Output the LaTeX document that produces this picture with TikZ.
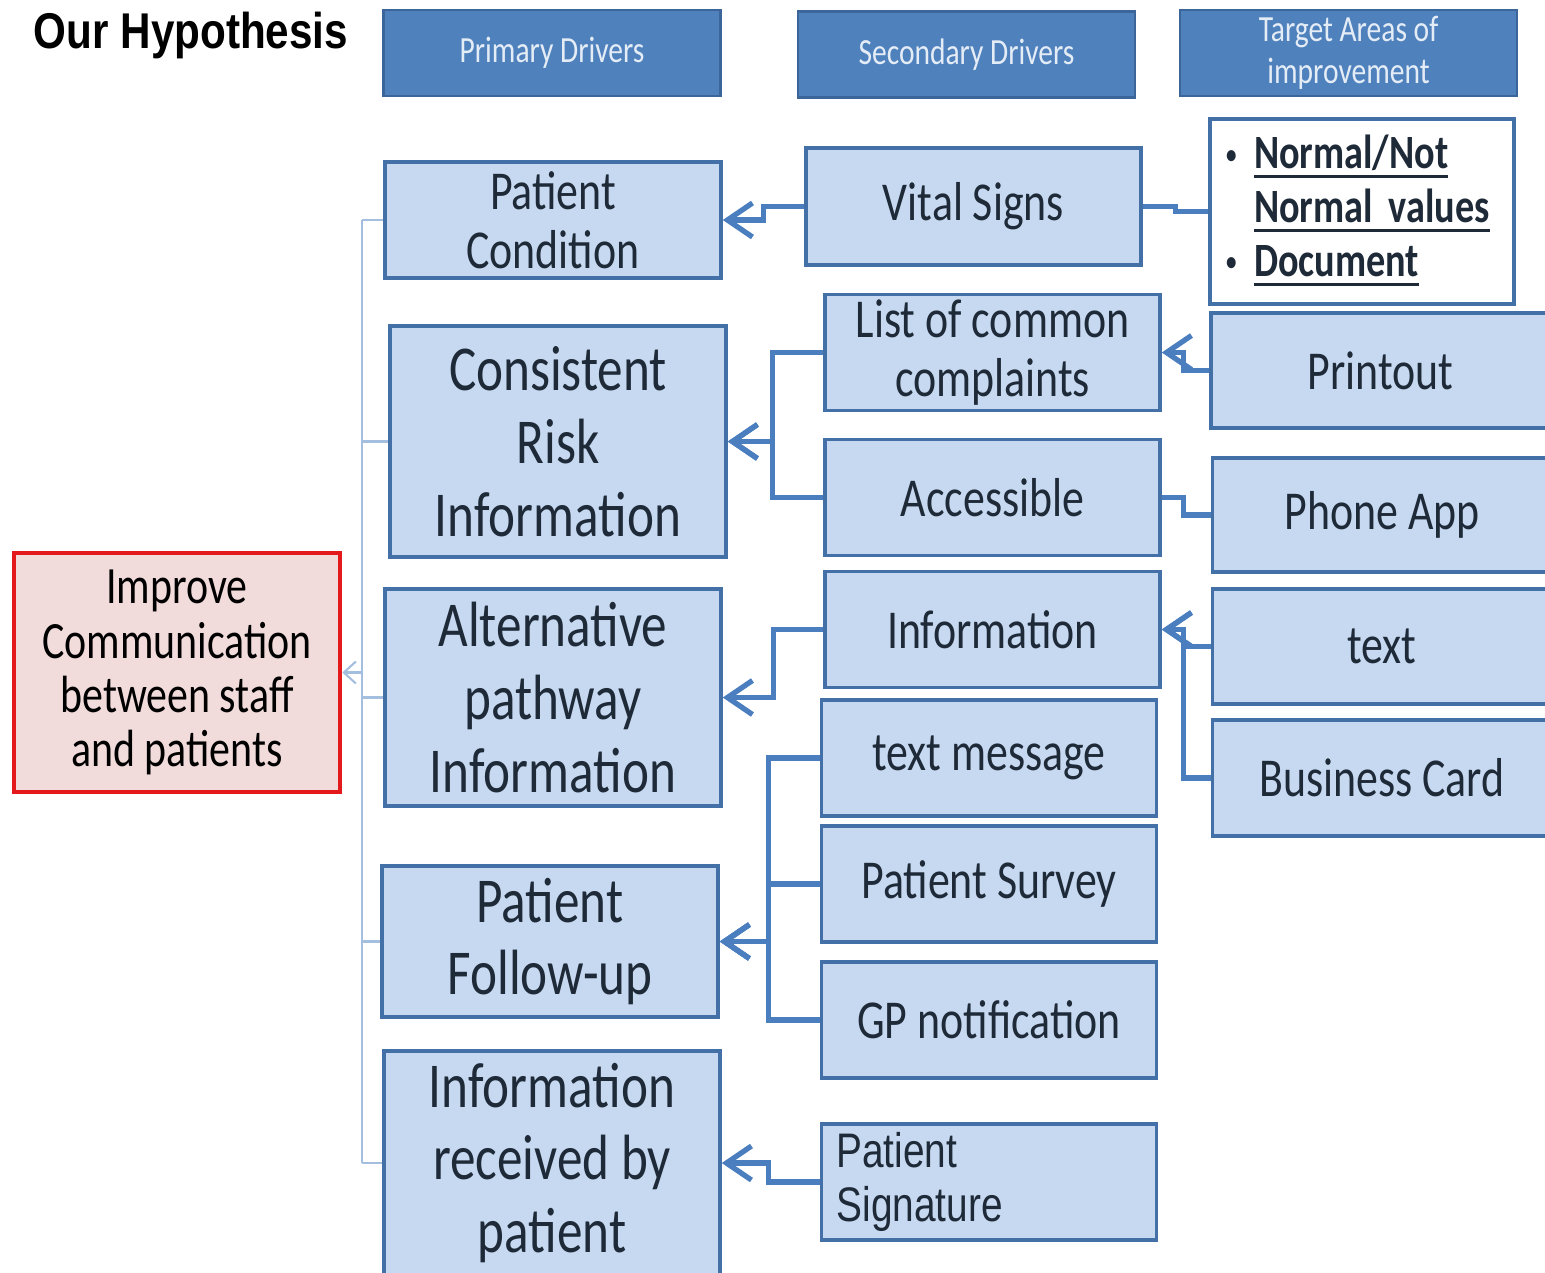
\documentclass[tikz,border=0pt]{standalone}
\usepackage{fontspec}
\usepackage{xcolor}
\usepackage{tikz}
\usetikzlibrary{arrows.meta,positioning,calc}

\setmainfont{Carlito}
\newfontfamily\boxfont[FakeStretch=0.8]{Carlito}
\newfontfamily\arialfont[FakeStretch=0.8]{Liberation Sans}
\newfontfamily\titlefont[FakeStretch=0.84]{Liberation Sans}

\definecolor{headblue}{HTML}{4F81BD}
\definecolor{headedge}{HTML}{3C6699}
\definecolor{headtext}{HTML}{E4ECF6}
\definecolor{boxblue}{HTML}{C6D9F1}
\definecolor{boxedge}{HTML}{4470A8}
\definecolor{linkblue}{HTML}{4A7EBF}
\definecolor{treeblue}{HTML}{A4BEDF}
\definecolor{textdark}{HTML}{1F2A38}
\definecolor{goalfill}{HTML}{F2DCDB}
\definecolor{goaledge}{HTML}{E3191C}

% underline at a fixed depth
\newlength{\undlwd}
\newcommand{\undl}[1]{\settowidth{\undlwd}{#1}\rlap{\rule[-2.8pt]{\undlwd}{0.9pt}}#1}
\newcommand{\smallbullet}{\raisebox{1.5pt}{\scalebox{0.55}{\textbullet}}}

\begin{document}
\begin{tikzpicture}[
    header/.style={rectangle, draw=headedge, line width=0.8pt, fill=headblue, minimum width=3.37cm, minimum height=0.86cm, inner ysep=1pt, align=center, text=headtext, font=\boxfont\fontsize{10.5}{11.9}\selectfont},
    primary/.style={rectangle, draw=boxedge, line width=1pt, fill=boxblue, minimum width=3.36cm, align=center, text=textdark, font=\boxfont\fontsize{18.2}{20.7}\selectfont},
    secondary/.style={rectangle, draw=boxedge, line width=1pt, fill=boxblue, minimum width=3.35cm, minimum height=1.16cm, inner ysep=1pt, align=center, text=textdark, font=\boxfont\fontsize{15.6}{16.8}\selectfont},
    target/.style={secondary, minimum width=3.39cm, minimum height=1.15cm},
    bulletbox/.style={rectangle, draw=boxedge, line width=1pt, fill=white, minimum width=3.02cm, minimum height=1.83cm, text width=2.72cm, inner xsep=0.16cm, align=left, text=textdark, font=\boxfont\bfseries\fontsize{13.6}{15.3}\selectfont},
    goal/.style={rectangle, draw=goaledge, line width=1.3pt, fill=goalfill, minimum width=3.26cm, minimum height=2.39cm, align=center, text=black, font=\boxfont\fontsize{14.9}{15.4}\selectfont},
    link/.style={draw=linkblue, line width=1.5pt},
    arrow/.style={link, -{Straight Barb[length=2.5mm, width=3.4mm, line width=1.5pt]}},
    tree/.style={draw=treeblue, line width=0.6pt},
    treearrow/.style={tree, -{Straight Barb[length=1.2mm, width=2.2mm]}}
]
\useasboundingbox (0,0) rectangle (15.45,-12.72);

% Title and column headers
\node[font=\titlefont\bfseries\fontsize{14.3}{16}\selectfont] (title) at (1.91,-0.35) {Our Hypothesis};
\node[header] (hprim) at (5.52,-0.53) {Primary Drivers};
\node[header] (hsec) at (9.665,-0.545) {Secondary Drivers};
\node[header] (htarg) at (13.485,-0.53) {Target Areas of\\improvement};

% Aim
\node[goal] (goal) at (1.77,-6.725) {Improve\\Communication\\between staff\\and patients};

% Primary drivers
\node[primary, minimum height=1.16cm, inner ysep=1pt, font=\boxfont\fontsize{15.6}{16.8}\selectfont] (pcond) at (5.53,-2.20) {Patient\\Condition};
\node[primary, minimum height=2.31cm] (risk) at (5.58,-4.415) {Consistent\\Risk\\Information};
\node[primary, minimum height=2.17cm] (altpath) at (5.53,-6.975) {Alternative\\pathway\\Information};
\node[primary, minimum height=1.51cm] (follow) at (5.50,-9.415) {Patient\\Follow-up};
\node[primary, minimum height=2.24cm] (recvd) at (5.52,-11.63) {Information\\received by\\patient};

% Secondary drivers
\node[secondary, minimum height=1.17cm] (vital) at (9.735,-2.065) {Vital Signs};
\node[secondary] (complaints) at (9.925,-3.525) {List of common\\complaints};
\node[secondary] (access) at (9.925,-4.975) {Accessible};
\node[secondary] (info) at (9.925,-6.295) {Information};
\node[secondary] (txtmsg) at (9.89,-7.58) {text message};
\node[secondary] (survey) at (9.89,-8.84) {Patient Survey};
\node[secondary] (gpnote) at (9.89,-10.20) {GP notification};
\node[secondary, text width=3.05cm, align=left, font=\arialfont\fontsize{13.8}{15.3}\selectfont] (signature) at (9.89,-11.82) {\raisebox{-4pt}{Patient}\\\raisebox{-4pt}{Signature}};

% Target areas
\node[bulletbox] (bullets) at (13.62,-2.115) {%
  \raisebox{-4pt}{\begin{tabular}{@{}l@{\hspace{5pt}}l@{}}
  \smallbullet & \undl{Normal/Not}\\
               & \undl{Normal values}\\
  \smallbullet & \undl{Document}
  \end{tabular}}};
\node[target] (printout) at (13.805,-3.705) {Printout};
\node[target, minimum height=1.14cm] (phone) at (13.82,-5.15) {Phone App};
\node[target] (txt) at (13.82,-6.465) {text};
\node[target, minimum height=1.16cm] (bcard) at (13.82,-7.78) {Business Card};

% Tree from the aim to the primary drivers
\coordinate (trunk) at (3.62,-6.725);
\draw[tree] (pcond.west -| trunk) -- (recvd.west -| trunk);
\foreach \p in {pcond, risk, altpath, follow, recvd}
  \draw[tree] (\p.west) -- (\p.west -| trunk);
\draw[treearrow] (trunk) -- (goal.east);

% Secondary to primary
\draw[arrow] (vital.west) -- ++(-0.41,0) |- (pcond.east);
\draw[arrow] (complaints.west) -- ++(-0.51,0) |- (risk.east);
\draw[arrow] (access.west) -- ++(-0.51,0) |- (risk.east);
\draw[arrow] (info.west) -- ++(-0.50,0) |- (altpath.east);
\draw[arrow] (txtmsg.west) -- ++(-0.51,0) |- (follow.east);
\draw[arrow] (survey.west) -- ++(-0.51,0) |- (follow.east);
\draw[arrow] (gpnote.west) -- ++(-0.51,0) |- (follow.east);
\draw[arrow] (signature.west) -- ++(-0.51,0) |- (recvd.east);

% Target areas to secondary
\draw[link] (bullets.west) -- ++(-0.33,0) |- (vital.east);
\draw[arrow] (printout.west) -- ++(-0.26,0) |- (complaints.east);
\draw[link] (phone.west) -- ++(-0.27,0) |- (access.east);
\draw[arrow] (txt.west) -- ++(-0.27,0) |- (info.east);
\draw[arrow] (bcard.west) -- ++(-0.27,0) |- (info.east);

\end{tikzpicture}
\end{document}
